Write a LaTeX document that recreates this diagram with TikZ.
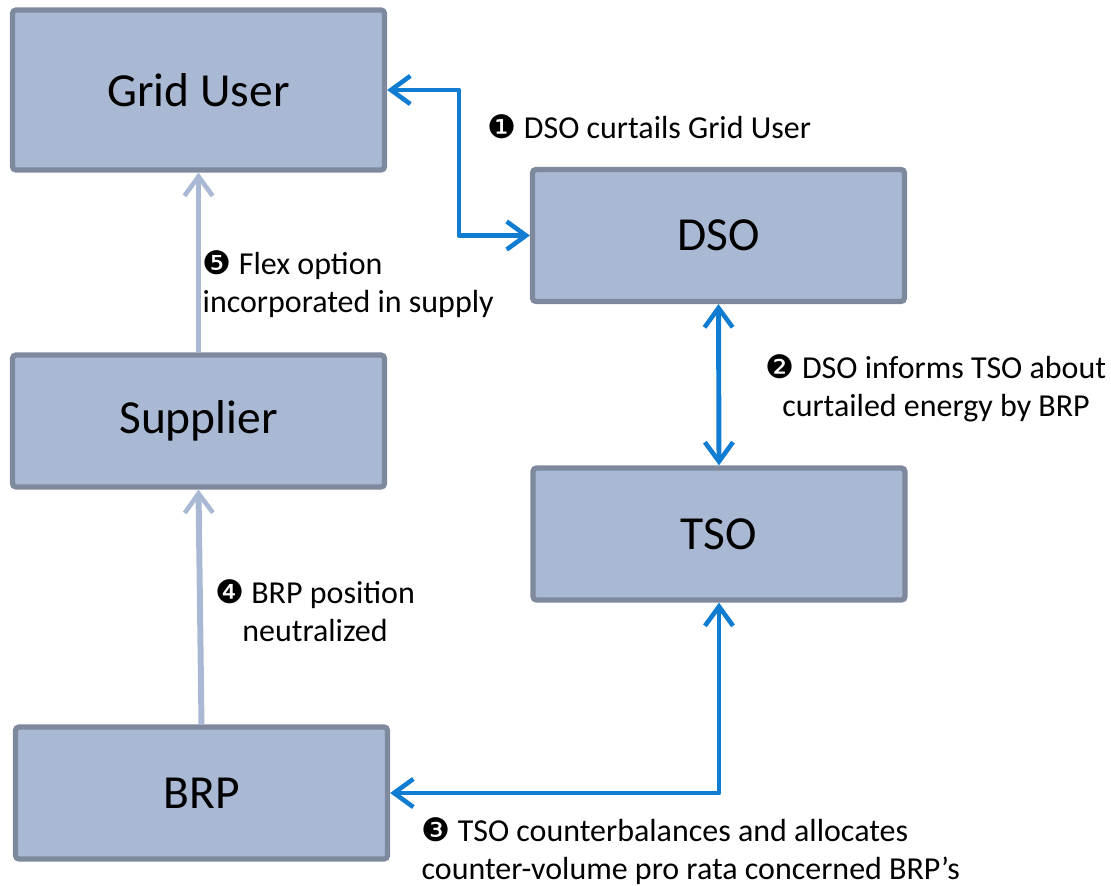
\documentclass[tikz,border=0pt]{standalone}
\usepackage{fontspec}
\setmainfont{Carlito}
\newfontfamily\dingfont{DejaVu Sans}
\usetikzlibrary{arrows.meta,positioning}

\definecolor{boxfill}{RGB}{169,184,211}
\definecolor{boxline}{RGB}{127,137,157}
\definecolor{flowc}{RGB}{16,124,210}
\definecolor{feedc}{RGB}{169,184,211}

\newcommand{\stepmark}[1]{{\dingfont\fontsize{9.2}{10}\selectfont #1}}

\begin{document}
\begin{tikzpicture}[
  >={Straight Barb[length=5.5pt,width=8pt,line width=1.3pt]},
  blk/.style={draw=boxline,fill=boxfill,line width=1.5pt,rounded corners=1pt,
    minimum width=3.72cm,minimum height=1.32cm,inner sep=0pt,
    font=\fontsize{13.5}{15}\selectfont},
  flow/.style={<->,line width=1.4pt,flowc,line join=round},
  feed/.style={->,line width=1.7pt,feedc},
  lab/.style={font=\fontsize{9.1}{10.8}\selectfont,inner sep=0pt}]

  \useasboundingbox (0,0) rectangle (11.11,-8.85);

  % ---- actors ----
  \node[blk,minimum height=1.6cm] (grid) at (1.985,-0.90) {Grid User};
  \node[blk] (dso) at (7.185,-2.355) {DSO};
  \node[blk] (supp) at (1.985,-4.21) {Supplier};
  \node[blk] (tso) at (7.19,-5.34) {TSO};
  \node[blk] (brp) at (2.015,-7.93) {BRP};

  % ---- flows ----
  % 1: DSO curtails grid user
  \coordinate (bend1) at (4.59,-0.90);
  \draw[flow] (grid.east) -- (bend1) |- (dso.west);
  \node[lab,anchor=west] (l1) at (4.87,-1.27)
    {\stepmark{❶} DSO curtails Grid User};
  % 2: DSO informs TSO
  \draw[flow] (dso.south) -- (tso.north);
  \node[lab,align=center] (l2) at (9.36,-3.88)
    {\stepmark{❷} DSO informs TSO about\\curtailed energy by BRP};
  % 3: TSO counterbalances, allocates to BRP
  \draw[flow] (tso.south) |- (brp.east);
  \node[lab,align=left,anchor=west] (l3) at (4.21,-8.51)
    {\stepmark{❸} TSO counterbalances and allocates\\counter-volume pro rata concerned BRP’s};
  % 4: BRP position neutralized
  \draw[feed] (brp.north) -- (supp.south);
  \node[lab,align=center] (l4) at (3.15,-6.11)
    {\stepmark{❹} BRP position\\neutralized};
  % 5: flex option into supply
  \draw[feed] (supp.north) -- (grid.south);
  \node[lab,align=left,anchor=west] (l5) at (2.02,-2.84)
    {\stepmark{❺} Flex option\\incorporated in supply};
\end{tikzpicture}
\end{document}
